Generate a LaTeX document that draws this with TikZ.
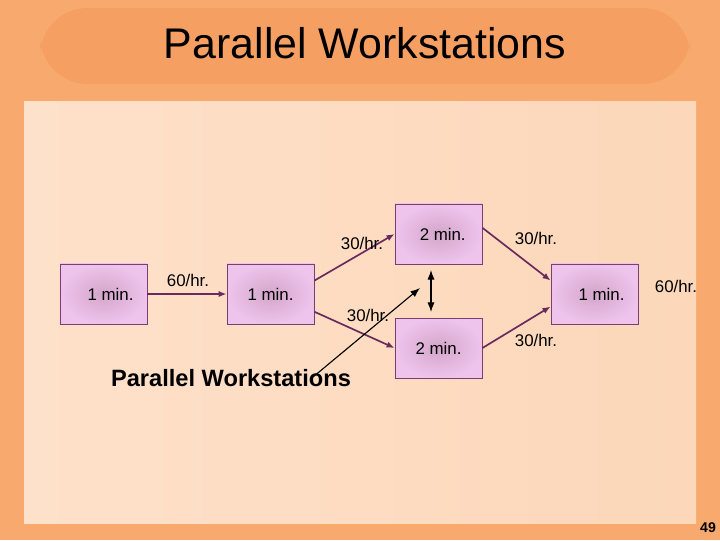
\documentclass[tikz,border=0pt]{standalone}
\usepackage{fontspec}
\setmainfont{Liberation Sans}
\usepackage{xcolor}
\usetikzlibrary{
	positioning,						% Relative positioning
	arrows.meta,						% Arrow tips
	shadings							% Radial glow of the boxes
}

\definecolor{slidebg}{HTML}{F8AA6E}
\definecolor{titleband}{HTML}{F5A062}
\definecolor{panelleft}{HTML}{FEE1CA}
\definecolor{panelright}{HTML}{FCD7B9}
\definecolor{boxfill}{HTML}{EEC4EC}
\definecolor{boxglow}{HTML}{D4A5CA}
\definecolor{boxline}{HTML}{7A3F70}
\definecolor{flowline}{HTML}{6B2A5E}

\begin{document}
\begin{tikzpicture}
		[
		,x=0.025cm, y=-0.025cm
		,station/.style = {
			,draw=boxline
			,line width=0.6pt
			,minimum width=2.175cm
			,minimum height=1.5cm
			,inner sep=0pt
			,inner color=boxglow
			,outer color=boxfill
			,font=\fontsize{12}{14}\selectfont}
		,rate_label/.style = {
			,inner sep=0pt
			,font=\fontsize{12}{14}\selectfont}
		,flow_tip/.tip = {
			Latex[length=2mm, width=1.6mm]}
		,pointer_tip/.tip = {
			Latex[length=2.4mm, width=1.8mm]}
		,flow/.style = {
			,draw=flowline
			,line width=1.2pt
			,-flow_tip}
		,pointer/.style = {
			,draw=black
			,line width=0.8pt}
		]
		
		% Slide background
		\useasboundingbox (0,0) rectangle (720,540);
		\fill[slidebg] (0,0) rectangle (720,540);
		\fill[titleband, rounded corners=34] (40,8) rectangle (690,84);
		\shade[left color=panelleft, right color=panelright] (24,101) rectangle (696,523);
		
		% Title and page number
		\node (title)  at (365,43)  {\fontsize{30.5}{34}\selectfont Parallel Workstations};
		\node (pageno) at (708,528) {\fontsize{10}{12}\selectfont\bfseries 49};
		
		% Work stations
		\node [station] (first)  at (103.5,294) {\hspace*{10pt}1 min.};
		\node [station] (second) at (270.5,294) {1 min.};
		\node [station] (upper)  at (438.5,234) {\hspace*{6pt}2 min.};
		\node [station] (lower)  at (438.5,348) {2 min.};
		\node [station] (last)   at (594.5,294) {\hspace*{10pt}1 min.};
		
		% Flows between stations
		\draw [flow] (first.east) -- (second.west);
		\draw [flow] (second.17)  -- (upper.west);
		\draw [flow] (second.-22) -- (lower.west);
		\draw [flow] (upper.8)    -- (last.163);
		\draw [flow] (lower.east) -- (last.196);
		
		% Rates
		\node [rate_label] (rate_in)    at (188,280) {60/hr.};
		\node [rate_label] (rate_up)    at (362,243) {30/hr.};
		\node [rate_label] (rate_down)  at (368,315) {30/hr.};
		\node [rate_label] (rate_upout) at (536,238) {30/hr.};
		\node [rate_label] (rate_loout) at (536,340) {30/hr.};
		\node [rate_label] (rate_out)   at (676,286) {60/hr.};
		
		% Caption with its pointer
		\node (caption) at (231,378) {\fontsize{16.8}{19}\selectfont\bfseries Parallel Workstations};
		\coordinate (point_from) at (313,377);
		\coordinate (point_to)   at (420,288);
		\draw [pointer, -pointer_tip] (point_from) -- (point_to);
		
		% Parallel link
		\coordinate (link_top)    at (431,270);
		\coordinate (link_bottom) at (431,312);
		\draw [pointer, pointer_tip-pointer_tip] (link_top) -- (link_bottom);
	\end{tikzpicture}
\end{document}
